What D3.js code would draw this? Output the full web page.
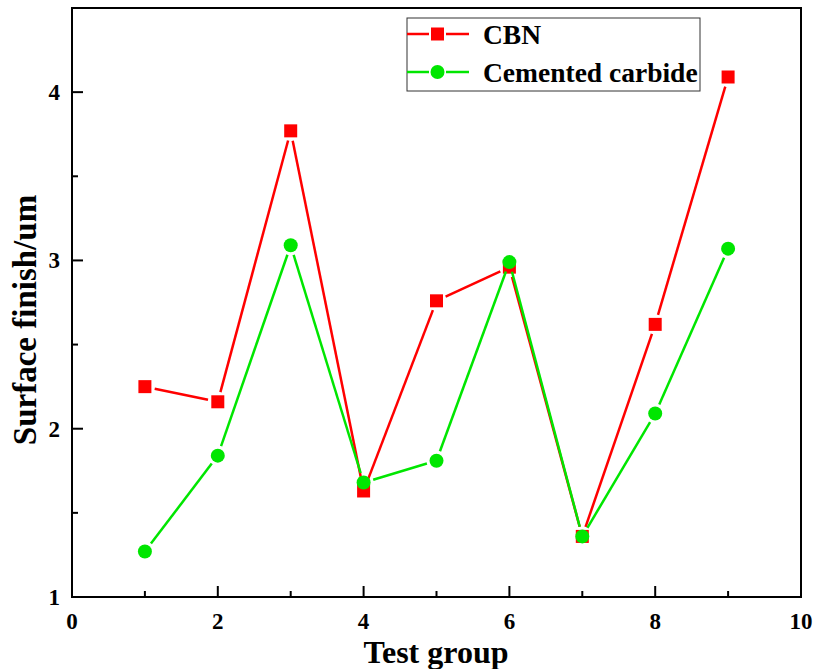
<!DOCTYPE html>
<html><head><meta charset="utf-8">
<script src="https://cdn.jsdelivr.net/npm/d3@7"></script>
<style>body{margin:0;background:#fff;} svg text{font-family:"Liberation Serif","Times New Roman",serif;font-weight:bold;}</style>
</head><body>
<svg id="c" width="815" height="669"></svg>
<script>
const groups = [1,2,3,4,5,6,7,8,9];
const cbn = [2.25,2.16,3.77,1.63,2.76,2.96,1.36,2.62,4.09];
const carbide = [1.27,1.84,3.09,1.68,1.81,2.99,1.36,2.09,3.07];
const seriesNames = ["CBN","Cemented carbide"];
const xTicks = [0,2,4,6,8,10];
const yTicks = [1,2,3,4];

const svg = d3.select("#c");
const L=72,R=801,T=8,B=597;
const x = d3.scaleLinear().domain([0,10]).range([L,R]);
const y = d3.scaleLinear().domain([1,4.5]).range([B,T]);

// frame
svg.append("rect").attr("x",L).attr("y",T).attr("width",R-L).attr("height",B-T)
  .attr("fill","none").attr("stroke","#000").attr("stroke-width",2);

// x axis ticks (inward)
const xMinor = d3.range(1,10,2);
svg.append("g").selectAll("line").data(xTicks.slice(1,-1)).join("line")
  .attr("x1",d=>x(d)).attr("x2",d=>x(d)).attr("y1",B).attr("y2",B-11).attr("stroke","#000").attr("stroke-width",2);
svg.append("g").selectAll("line").data(xMinor).join("line")
  .attr("x1",d=>x(d)).attr("x2",d=>x(d)).attr("y1",B).attr("y2",B-6).attr("stroke","#000").attr("stroke-width",2);
svg.append("g").selectAll("text").data(xTicks).join("text")
  .attr("x",d=>x(d)).attr("y",629).attr("text-anchor","middle").attr("font-size",23).text(d=>d);

// y axis ticks
const yMinor = [1.5,2.5,3.5];
svg.append("g").selectAll("line").data(yTicks.slice(1)).join("line")
  .attr("x1",L).attr("x2",L+11).attr("y1",d=>y(d)).attr("y2",d=>y(d)).attr("stroke","#000").attr("stroke-width",2);
svg.append("g").selectAll("line").data(yMinor).join("line")
  .attr("x1",L).attr("x2",L+6).attr("y1",d=>y(d)).attr("y2",d=>y(d)).attr("stroke","#000").attr("stroke-width",2);
svg.append("g").selectAll("text").data(yTicks).join("text")
  .attr("x",60).attr("y",d=>y(d)+8).attr("text-anchor","end").attr("font-size",23).text(d=>d);

// axis titles
svg.append("text").attr("x",436).attr("y",663).attr("text-anchor","middle").attr("font-size",32).text("Test group");
svg.append("text").attr("transform","translate(36,320) rotate(-90)").attr("text-anchor","middle").attr("font-size",33).text("Surface finish/um");

// series
const colors = ["#ff0000","#00e600"];
function drawSeries(vals, color, marker){
  const pts = groups.map((g,i)=>[x(g),y(vals[i])]);
  const gap = 10;
  const g = svg.append("g");
  for(let i=0;i<pts.length-1;i++){
    const [x1,y1]=pts[i],[x2,y2]=pts[i+1];
    const dx=x2-x1, dy=y2-y1, len=Math.hypot(dx,dy);
    if(len<=2*gap) continue;
    const ux=dx/len, uy=dy/len;
    g.append("line").attr("x1",x1+ux*gap).attr("y1",y1+uy*gap).attr("x2",x2-ux*gap).attr("y2",y2-uy*gap)
      .attr("stroke",color).attr("stroke-width",2.5);
  }
  if(marker==="square"){
    g.selectAll("rect").data(pts).join("rect").attr("x",d=>d[0]-6.5).attr("y",d=>d[1]-6.5)
      .attr("width",13).attr("height",13).attr("fill",color);
  } else {
    g.selectAll("circle").data(pts).join("circle").attr("cx",d=>d[0]).attr("cy",d=>d[1]).attr("r",7).attr("fill",color);
  }
}
drawSeries(cbn, colors[0], "square");
drawSeries(carbide, colors[1], "circle");

// legend
const lg = svg.append("g");
lg.append("rect").attr("x",407).attr("y",18).attr("width",293).attr("height",73).attr("fill","#fff").attr("stroke","#333").attr("stroke-width",1);
const rows=[34,72];
seriesNames.forEach((n,i)=>{
  const cy=rows[i];
  lg.append("line").attr("x1",407).attr("x2",429).attr("y1",cy).attr("y2",cy).attr("stroke",colors[i]).attr("stroke-width",2.5);
  lg.append("line").attr("x1",446).attr("x2",469).attr("y1",cy).attr("y2",cy).attr("stroke",colors[i]).attr("stroke-width",2.5);
  if(i===0) lg.append("rect").attr("x",431).attr("y",cy-6.5).attr("width",13).attr("height",13).attr("fill",colors[i]);
  else lg.append("circle").attr("cx",437.5).attr("cy",cy).attr("r",7).attr("fill",colors[i]);
  lg.append("text").attr("x",483).attr("y",cy+10).attr("font-size",27.5).text(n);
});
</script>
</body></html>
